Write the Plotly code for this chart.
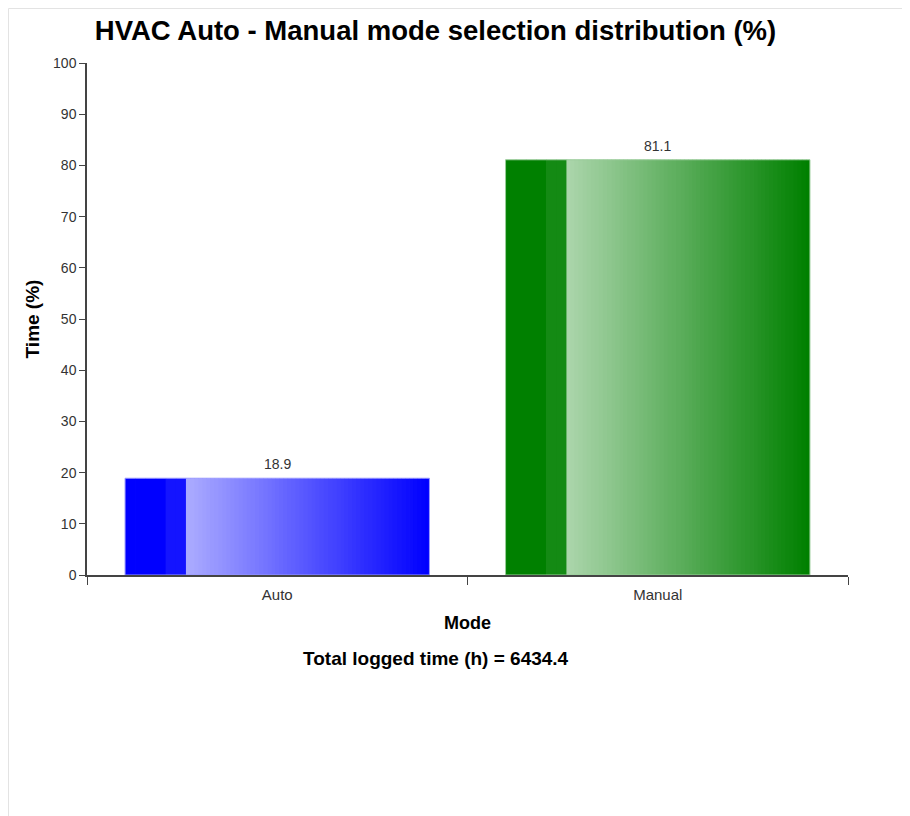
import plotly.graph_objects as go

categories = ["Auto", "Manual"]
values = [18.9, 81.1]
base_colors = [(0, 0, 255), (0, 128, 0)]
value_labels = ["18.9", "81.1"]
total_hours = 6434.4
y_ticks = [0, 10, 20, 30, 40, 50, 60, 70, 80, 90, 100]

W, H = 910, 816
L, R, T, B = 79, 70, 55, 249
PW, PH = W - L - R, H - T - B


def mix(c, f):
    # mix colour c with white by fraction f
    return "rgb(%d,%d,%d)" % tuple(round(v + (255 - v) * f) for v in c)


def px_x(x):
    return (x - L) / PW


def px_y(y):
    return (H - B - y) / PH


fig = go.Figure()

bar_w = 0.8
start = -bar_w / 2
solid_frac = 0.2
n_solid = 6
solid_w = bar_w * solid_frac
for j in range(n_solid):
    f = 0.0 if j < 4 else 0.08
    fig.add_trace(go.Bar(
        x=categories, y=values,
        offset=start + j * solid_w / n_solid, width=solid_w / n_solid + 0.002,
        marker=dict(color=[mix(c, f) for c in base_colors], line=dict(width=0)),
        hoverinfo="skip", showlegend=False))

n_grad = 60
grad_start = start + solid_w
grad_w = bar_w - solid_w
for j in range(n_grad):
    f = 0.67 * (1 - j / (n_grad - 1))
    fig.add_trace(go.Bar(
        x=categories, y=values,
        offset=grad_start + j * grad_w / n_grad,
        width=grad_w / n_grad + (0.002 if j < n_grad - 1 else 0),
        marker=dict(color=[mix(c, f) for c in base_colors], line=dict(width=0)),
        hoverinfo="skip", showlegend=False))

fig.add_trace(go.Bar(
    x=categories, y=values, offset=start, width=bar_w,
    marker=dict(color="rgba(0,0,0,0)",
                line=dict(width=1, color=[mix(c, 0.6) for c in base_colors])),
    hoverinfo="skip", showlegend=False))

annotations = [dict(x=c, y=v, xref="x", yref="y", text=t, showarrow=False,
                    yanchor="bottom", yshift=4,
                    font=dict(family="Liberation Sans, Arial", size=14, color="#333"))
               for c, v, t in zip(categories, values, value_labels)]
annotations.append(dict(text="<b>Total logged time (h) = %.1f</b>" % total_hours,
                        xref="paper", yref="paper",
                        x=px_x(427.5), y=px_y(650),
                        xanchor="center", yanchor="middle", showarrow=False,
                        font=dict(size=19, color="#000")))

fig.update_layout(
    width=W, height=H,
    margin=dict(l=L, r=R, t=T, b=B),
    paper_bgcolor="white", plot_bgcolor="white",
    barmode="overlay", bargap=0.2,
    font=dict(family="Liberation Sans, Arial", color="#333"),
    title=dict(text="<b>HVAC Auto - Manual mode selection distribution (%)</b>",
               x=427.5 / W, xanchor="center", y=1 - 22 / H, yanchor="middle",
               font=dict(size=27.5, color="#000")),
    xaxis=dict(
        type="category", range=[-0.5, 1.5],
        showline=True, linecolor="#444", linewidth=1.5,
        ticks="outside", tickson="boundaries", ticklen=8, tickcolor="#444",
        tickfont=dict(size=15, color="#333"), ticklabelstandoff=5,
        showgrid=False, zeroline=False,
        title=dict(text="<b>Mode</b>", font=dict(size=18, color="#000"), standoff=15)),
    yaxis=dict(
        range=[0, 100], tickvals=y_ticks,
        showline=True, linecolor="#444", linewidth=1.5,
        ticks="outside", ticklen=6, tickcolor="#444",
        tickfont=dict(size=14, color="#333"),
        showgrid=False, zeroline=False,
        title=dict(text="<b>Time (%)</b>", font=dict(size=19, color="#000"), standoff=8)),
    shapes=[
        dict(type="line", xref="paper", yref="paper",
             x0=px_x(0.5), x1=px_x(0.5), y0=px_y(H), y1=px_y(0.5),
             line=dict(color="#e3e3e3", width=1)),
        dict(type="line", xref="paper", yref="paper",
             x0=px_x(0.5), x1=px_x(W), y0=px_y(0.5), y1=px_y(0.5),
             line=dict(color="#e3e3e3", width=1)),
    ],
    annotations=annotations,
)

fig.write_html("out.html")
